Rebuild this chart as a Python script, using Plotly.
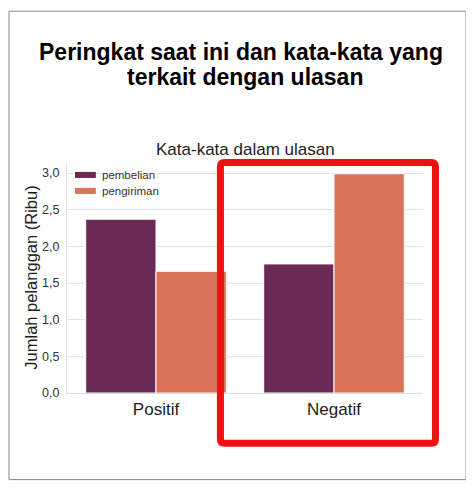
import plotly.graph_objects as go

# data (values in thousands)
kategori = ["Positif", "Negatif"]
pembelian = [2.37, 1.76]
pengiriman = [1.66, 2.99]
y_ticks = [0, 0.5, 1.0, 1.5, 2.0, 2.5, 3.0]

warna_beli = "#6a2a55"
warna_kirim = "#d8735a"

fig = go.Figure()

# purchase bars
fig.add_trace(
    go.Bar(
        x=kategori,
        y=pembelian,
        name="pembelian",
        marker=dict(color=warna_beli, line=dict(color="white", width=1))
    )
)

# shipping bars
fig.add_trace(
    go.Bar(
        x=kategori,
        y=pengiriman,
        name="pengiriman",
        marker=dict(color=warna_kirim, line=dict(color="white", width=1))
    )
)

# axes
fig.update_xaxes(
    showgrid=False,
    showline=True,
    linecolor="#dddddd",
    tickfont=dict(size=17, color="#222222"),
    ticks="",
    ticklabelstandoff=1
)
fig.update_yaxes(
    range=[0, 3.15],
    tickvals=y_ticks,
    tickformat=".1f",
    tickfont=dict(size=12.5, color="#333333"),
    gridcolor="#e3e3e3",
    showline=True,
    linecolor="#e8e8e8",
    zeroline=False,
    ticks="",
    ticklabelstandoff=4,
    title=dict(text="Jumlah pelanggan (Ribu)", font=dict(size=16.5, color="#222222"), standoff=0)
)

# outer frame
fig.add_shape(type="rect", xref="paper", yref="paper",
              x0=-0.163, x1=1.121, y0=-0.375, y1=1.653,
              line=dict(color="#888888", width=1), layer="below")

# red highlight box with slightly rounded corners
x0, x1, y0, y1 = 0.431, 1.035, -0.217, 0.998
rx, ry = 4 / 356, 4 / 231
kotak = (f"M{x0 + rx},{y0} L{x1 - rx},{y0} Q{x1},{y0} {x1},{y0 + ry} "
         f"L{x1},{y1 - ry} Q{x1},{y1} {x1 - rx},{y1} "
         f"L{x0 + rx},{y1} Q{x0},{y1} {x0},{y1 - ry} "
         f"L{x0},{y0 + ry} Q{x0},{y0} {x0 + rx},{y0} Z")
fig.add_shape(type="path", xref="paper", yref="paper", path=kotak,
              line=dict(color="#ee1111", width=7))

# legend drawn by hand (wide flat swatches like the original)
for nama, warna, yy in [("pembelian", warna_beli, 0.944), ("pengiriman", warna_kirim, 0.875)]:
    fig.add_shape(type="rect", xref="paper", yref="paper",
                  x0=0.0225, x1=0.081, y0=yy - 0.013, y1=yy + 0.013,
                  fillcolor=warna, line=dict(width=0))
    fig.add_annotation(text=nama, xref="paper", yref="paper",
                       x=0.093, y=yy, xanchor="left", yanchor="middle",
                       showarrow=False, font=dict(size=11.5, color="#333333"))

# second title line and subtitle over the plot
fig.add_annotation(text="<b>terkait dengan ulasan</b>", xref="paper", yref="paper",
                   x=0.5, y=1.369, xanchor="center", yanchor="middle",
                   showarrow=False, font=dict(size=23, color="black"))
fig.add_annotation(text="Kata-kata dalam ulasan", xref="paper", yref="paper",
                   x=0.5, y=1.056, xanchor="center", yanchor="middle",
                   showarrow=False, font=dict(size=17, color="#222222"))

fig.update_layout(
    width=466,
    height=489,
    margin=dict(l=59, r=51, t=154, b=104),
    barmode="group",
    bargap=0.21,
    bargroupgap=0,
    separators=",.",
    showlegend=False,
    plot_bgcolor="white",
    paper_bgcolor="white",
    font=dict(family="Liberation Sans, Arial, sans-serif", color="#222222"),
    title=dict(
        text="<b>Peringkat saat ini dan kata-kata yang</b>",
        x=0.5, xanchor="center", y=1 - 44 / 489, yanchor="middle",
        font=dict(size=23, color="black")
    )
)

fig.write_html("out.html")
